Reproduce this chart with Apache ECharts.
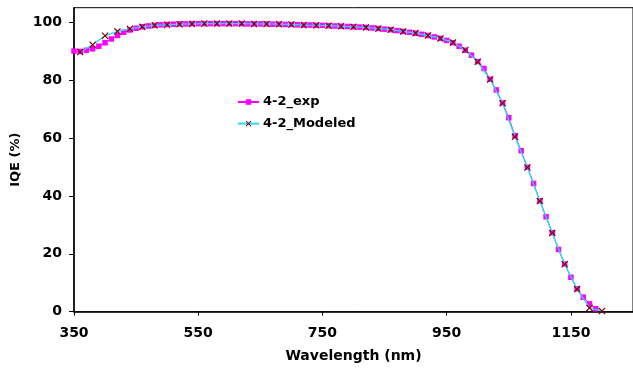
<!DOCTYPE html>
<html>
<head>
<meta charset="utf-8">
<script src="https://cdn.jsdelivr.net/npm/echarts@6/dist/echarts.min.js"></script>
<style>html,body{margin:0;padding:0;background:#fff;}#c{width:633px;height:369px;}</style>
</head>
<body>
<div id="c"></div>
<script>
var xTicks = [350, 550, 750, 950, 1150];
var yTicks = [0, 20, 40, 60, 80, 100];

var expWavelength = [350,360,370,380,390,400,410,420,430,440,450,460,470,480,490,500,510,520,530,540,550,560,570,580,590,600,610,620,630,640,650,660,670,680,690,700,710,720,730,740,750,760,770,780,790,800,810,820,830,840,850,860,870,880,890,900,910,920,930,940,950,960,970,980,990,1000,1010,1020,1030,1040,1050,1060,1070,1080,1090,1100,1110,1120,1130,1140,1150,1160,1170,1180,1190];
var expIQE = [90.0,89.9,90.3,90.8,91.7,92.9,94.2,95.4,96.5,97.3,97.9,98.4,98.7,98.9,99.1,99.2,99.3,99.4,99.4,99.5,99.5,99.5,99.5,99.5,99.5,99.5,99.5,99.5,99.4,99.4,99.4,99.4,99.3,99.3,99.2,99.2,99.1,99.0,99.0,98.9,98.9,98.8,98.7,98.6,98.5,98.4,98.3,98.2,98.0,97.8,97.6,97.4,97.1,96.8,96.5,96.2,95.8,95.4,94.9,94.4,93.7,92.9,91.7,90.3,88.6,86.4,84.0,80.3,76.6,72.1,67.0,60.8,55.6,49.9,44.3,38.3,32.8,27.3,21.5,16.5,11.9,7.9,5.0,2.7,1.0];

var modWavelength = [360,380,400,420,440,460,480,500,520,540,560,580,600,620,640,660,680,700,720,740,760,780,800,820,840,860,880,900,920,940,960,980,1000,1020,1040,1060,1080,1100,1120,1140,1160,1180,1200];
var modIQE = [89.7,92.2,95.3,96.8,97.7,98.4,98.9,99.1,99.3,99.4,99.5,99.5,99.5,99.5,99.4,99.4,99.3,99.2,99.0,98.9,98.8,98.6,98.4,98.2,97.8,97.4,96.8,96.2,95.4,94.4,93.0,90.4,86.3,80.2,72.0,60.4,49.8,38.2,27.2,16.4,7.8,1.3,0.2];

function pairs(xs, ys) { return xs.map(function (x, i) { return [x, ys[i]]; }); }

var FONT = '"DejaVu Sans", Verdana, sans-serif';
var crossPath = 'path://M0,1.2L1.2,0L5,3.8L8.8,0L10,1.2L6.2,5L10,8.8L8.8,10L5,6.2L1.2,10L0,8.8L3.8,5Z';

var chart = echarts.init(document.getElementById('c'), null, {renderer: 'canvas'});
chart.setOption({
  animation: false,
  backgroundColor: '#fff',
  grid: {left: 74, right: -3.5, top: 7.7, bottom: 57.3, show: true, borderColor: '#000', borderWidth: 1, backgroundColor: 'transparent'},
  legend: {
    orient: 'vertical', left: 237, top: 95, padding: 0,
    itemWidth: 21, itemHeight: 7, itemGap: 7.6,
    textStyle: {fontFamily: FONT, fontWeight: 'bold', fontSize: 13, lineHeight: 14, color: '#000', padding: [0,0,0,-1]},
    data: ['4-2_exp', '4-2_Modeled']
  },
  xAxis: {
    type: 'value', min: 350, max: 1250,
    name: 'Wavelength (nm)', nameLocation: 'middle', nameGap: 38,
    nameTextStyle: {fontFamily: FONT, fontWeight: 'bold', fontSize: 14, color: '#000'},
    axisLine: {lineStyle: {color: '#000', width: 1.5}},
    axisTick: {length: 4, lineStyle: {color: '#000', width: 1}, customValues: xTicks},
    axisLabel: {fontFamily: FONT, fontWeight: 'bold', fontSize: 14, color: '#000', margin: 15, customValues: xTicks,
      formatter: function (v) { return String(v); }},
    splitLine: {show: false}
  },
  yAxis: {
    type: 'value', min: 0, max: 105,
    name: 'IQE (%)', nameLocation: 'middle', nameGap: 50, nameRotate: 90,
    nameTextStyle: {fontFamily: FONT, fontWeight: 'bold', fontSize: 13, color: '#000'},
    axisLine: {lineStyle: {color: '#000', width: 1.5}},
    axisTick: {length: 5, lineStyle: {color: '#000', width: 1}, customValues: yTicks},
    axisLabel: {fontFamily: FONT, fontWeight: 'bold', fontSize: 14, color: '#000', margin: 12, customValues: yTicks,
      formatter: function (v) { return String(v); }},
    splitLine: {show: false}
  },
  series: [
    {
      name: '4-2_exp', type: 'line', data: pairs(expWavelength, expIQE),
      symbol: 'rect', symbolSize: 5.5, showAllSymbol: true,
      lineStyle: {color: '#FF00FF', width: 1},
      itemStyle: {color: '#FF00FF', borderWidth: 0},
      z: 2
    },
    {
      name: '4-2_Modeled', type: 'line', data: pairs(modWavelength, modIQE),
      symbol: crossPath, symbolSize: 7, showAllSymbol: true,
      lineStyle: {color: '#22DDF5', width: 1.3},
      itemStyle: {color: '#800000', borderWidth: 0},
      z: 3
    }
  ]
});
</script>
</body>
</html>
